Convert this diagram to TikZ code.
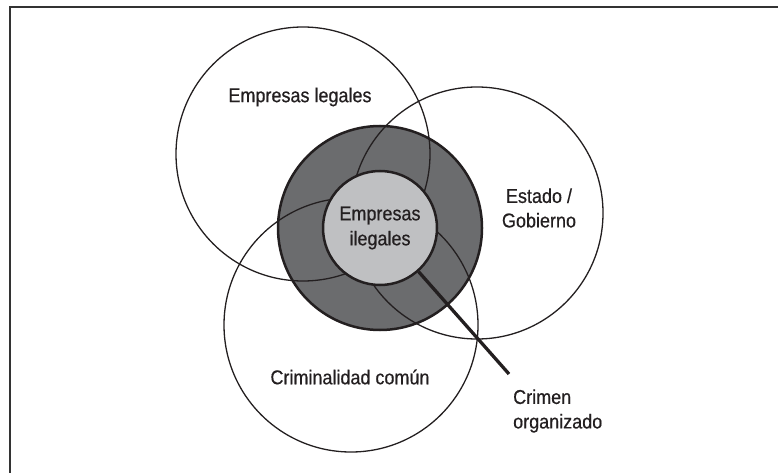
\documentclass[tikz,border=0pt]{standalone}
\usepackage{fontspec}
\setmainfont[FakeStretch=0.9,FakeBold=0.5]{Liberation Sans}
\definecolor{ink}{HTML}{231F20}
\definecolor{ringgray}{HTML}{6B6C6E}
\definecolor{coregray}{HTML}{BFC0C2}
\definecolor{framegray}{HTML}{333333}
\begin{document}
\begin{tikzpicture}[x=1pt,y=-1pt,
  lbl/.style={font=\fontsize{20pt}{24.5pt}\selectfont, text=ink, inner sep=0pt, align=center},
  outercirc/.style={circle, draw=ink, line width=1.3pt, inner sep=0pt},
  ringdisk/.style={circle, fill=ringgray, inner sep=0pt, minimum size=204pt},
  coredisk/.style={circle, fill=coregray, draw=ink, line width=2.5pt, inner sep=0pt, minimum size=114pt,
    font=\fontsize{20pt}{25pt}\selectfont, text=ink, align=center}
]
\useasboundingbox (0,0) rectangle (778,473);
\draw[framegray, line width=2pt] (10,7) rectangle (800,500);
% dark ring fill
\node[ringdisk] (ring) at (380,228) {};
% three outer circles
\node[outercirc, minimum size=254pt] (legal) at (303,154) {};
\node[outercirc, minimum size=252pt] (estado) at (477,213) {};
\node[outercirc, minimum size=254pt] (crim) at (351,325) {};
% ring border
\draw[ink, line width=2.5pt] (ring.center) circle[radius=102pt];
% core
\node[coredisk] (core) at (380,228) {Empresas\\ilegales};
% connector
\coordinate (coend) at (509,374);
\draw[ink, line width=3.3pt] (core) -- (coend);
% labels
\node[lbl] (tlegal) at (300,97) {Empresas legales};
\node[lbl] (testado) at (539,208) {Estado /\\Gobierno};
\node[lbl] (tcrim) at (350,377) {Criminalidad común};
\node[lbl, align=left, anchor=west] (tco) at (513,411) {Crimen\\organizado};
\end{tikzpicture}
\end{document}
